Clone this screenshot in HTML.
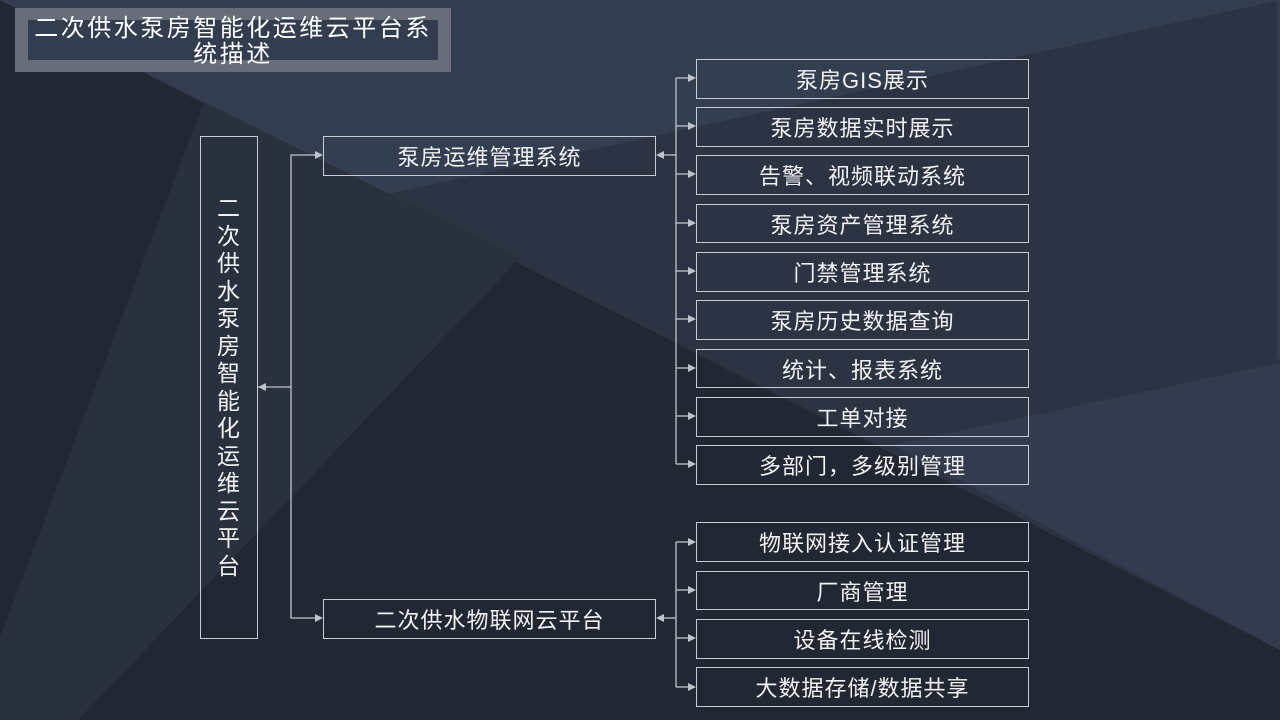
<!DOCTYPE html>
<html><head><meta charset="utf-8"><style>
html,body{margin:0;padding:0}
body{width:1280px;height:720px;position:relative;overflow:hidden;background:#222833;font-family:"Liberation Sans","Noto Sans CJK SC",sans-serif;color:#fff}
svg.bg{position:absolute;left:0;top:0}
.box{position:absolute;box-sizing:border-box;border:1px solid #c8ccd2;display:flex;align-items:center;justify-content:center;font-size:22px;color:#f2f2f2;letter-spacing:1px}
.title{position:absolute;left:15px;top:8px;width:436px;height:64px;background:#676e79}
.title .in{position:absolute;left:13px;top:12px;width:410px;height:40px;background:#323d50}
.title .t{position:absolute;left:0;top:8px;width:436px;text-align:center;font-size:24px;line-height:26px;color:#fff;letter-spacing:2.5px}
</style></head><body>
<svg class="bg" width="1280" height="720">
<polygon points="0,0 1280,0 1280,650" fill="#2c3444"/>
<polygon points="0,0 1280,0 388,194" fill="#343e51"/>
<polygon points="893,445 1280,363 1280,650" fill="#323c4e"/>
<polygon points="1277,0 1280,0 1280,359 1277,359" fill="#343e51"/>
<polygon points="204,102 520,258 78,720 0,720 0,637" fill="#29313e"/>
<g stroke="#c0c4ca" stroke-width="1.3" fill="none">
<line x1="258" y1="387" x2="291" y2="387"/>
<polyline points="318,155 291,155 291,618 318,618"/>
<line x1="661" y1="155" x2="676" y2="155"/>
<line x1="676" y1="78" x2="676" y2="464"/>
<line x1="661" y1="618" x2="676" y2="618"/>
<line x1="676" y1="542" x2="676" y2="687"/>
</g>
<g fill="#c0c4ca">
<polygon points="258,387 266,383 266,391"/>
<polygon points="323,155 315,151 315,159"/>
<polygon points="323,618 315,614 315,622"/>
<polygon points="656,155 664,151 664,159"/>
<polygon points="656,618 664,614 664,622"/>
</g>
<g stroke="#c0c4ca" stroke-width="1.3">
<line x1="676" y1="78" x2="690" y2="78"/><line x1="676" y1="126" x2="690" y2="126"/><line x1="676" y1="174" x2="690" y2="174"/><line x1="676" y1="223" x2="690" y2="223"/><line x1="676" y1="271" x2="690" y2="271"/><line x1="676" y1="319" x2="690" y2="319"/><line x1="676" y1="368" x2="690" y2="368"/><line x1="676" y1="416" x2="690" y2="416"/><line x1="676" y1="464" x2="690" y2="464"/>
<line x1="676" y1="542" x2="690" y2="542"/><line x1="676" y1="590" x2="690" y2="590"/><line x1="676" y1="638" x2="690" y2="638"/><line x1="676" y1="687" x2="690" y2="687"/>
</g>
<g fill="#c0c4ca">
<polygon points="696,78 688,74 688,82"/><polygon points="696,126 688,122 688,130"/><polygon points="696,174 688,170 688,178"/><polygon points="696,223 688,219 688,227"/><polygon points="696,271 688,267 688,275"/><polygon points="696,319 688,315 688,323"/><polygon points="696,368 688,364 688,372"/><polygon points="696,416 688,412 688,420"/><polygon points="696,464 688,460 688,468"/>
<polygon points="696,542 688,538 688,546"/><polygon points="696,590 688,586 688,594"/><polygon points="696,638 688,634 688,642"/><polygon points="696,687 688,683 688,691"/>
</g>
</svg>
<div class="title"><div class="in"></div><div class="t">二次供水泵房智能化运维云平台系<br>统描述</div></div>
<div class="box" style="left:200px;top:136px;width:58px;height:503px;flex-direction:column;font-size:23px;line-height:27.5px;text-align:center">二<br>次<br>供<br>水<br>泵<br>房<br>智<br>能<br>化<br>运<br>维<br>云<br>平<br>台</div>
<div class="box" style="left:323px;top:136px;width:333px;height:40px">泵房运维管理系统</div>
<div class="box" style="left:323px;top:599px;width:333px;height:40px">二次供水物联网云平台</div>
<div class="box" style="left:696px;top:59px;width:333px;height:40px">泵房GIS展示</div>
<div class="box" style="left:696px;top:107px;width:333px;height:40px">泵房数据实时展示</div>
<div class="box" style="left:696px;top:155px;width:333px;height:40px">告警、视频联动系统</div>
<div class="box" style="left:696px;top:204px;width:333px;height:39px">泵房资产管理系统</div>
<div class="box" style="left:696px;top:252px;width:333px;height:40px">门禁管理系统</div>
<div class="box" style="left:696px;top:300px;width:333px;height:40px">泵房历史数据查询</div>
<div class="box" style="left:696px;top:349px;width:333px;height:39px">统计、报表系统</div>
<div class="box" style="left:696px;top:397px;width:333px;height:40px">工单对接</div>
<div class="box" style="left:696px;top:445px;width:333px;height:40px">多部门，多级别管理</div>
<div class="box" style="left:696px;top:522px;width:333px;height:40px">物联网接入认证管理</div>
<div class="box" style="left:696px;top:571px;width:333px;height:39px">厂商管理</div>
<div class="box" style="left:696px;top:619px;width:333px;height:40px">设备在线检测</div>
<div class="box" style="left:696px;top:667px;width:333px;height:40px">大数据存储/数据共享</div>
</body></html>
